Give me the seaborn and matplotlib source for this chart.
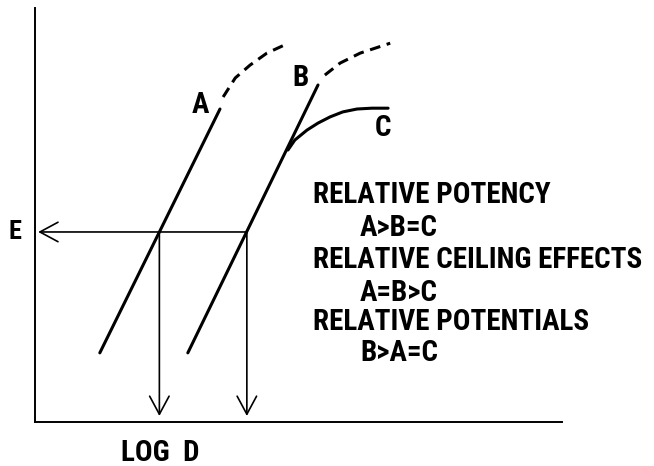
import seaborn as sns
import matplotlib.pyplot as plt

# Log dose (x) and effect (y)
a_dose = [1.23, 3.51]
a_effect = [16.7, 75.6]
a_ext_dose = [3.57, 3.80, 4.08, 4.40, 4.74]
a_ext_effect = [78.5, 83.1, 86.2, 89.1, 91.1]

b_dose = [2.90, 5.37]
b_effect = [16.7, 81.4]
b_ext_dose = [5.50, 5.79, 6.17, 6.74]
b_ext_effect = [83.8, 86.7, 89.1, 91.5]

c_dose = [4.80, 4.93, 5.16, 5.37, 5.60, 5.84, 6.11, 6.39, 6.70]
c_effect = [65.7, 68.1, 70.5, 72.2, 73.7, 74.9, 75.6, 75.8, 75.8]

e_level = 45.9
equi_doses = [2.36, 4.02]

summary_lines = ['RELATIVE POTENCY', 'A>B=C',
                 'RELATIVE CEILING EFFECTS', 'A=B>C',
                 'RELATIVE POTENTIALS', 'B>A=C']

sns.set_theme(style='white')
plt.rcParams['font.family'] = ['Roboto Condensed', 'Roboto', 'DejaVu Sans']
plt.rcParams['text.color'] = 'black'

fig = plt.figure(figsize=(6.54, 4.66), dpi=100)
ax = fig.add_axes([35 / 654, 44 / 466, 527 / 654, 414 / 466])

# Curves
dash = (0, (3.5, 2.2))
sns.lineplot(x=a_dose, y=a_effect, ax=ax, color='black', lw=2.2)
sns.lineplot(x=a_ext_dose, y=a_ext_effect, ax=ax, color='black', lw=2.2, linestyle=dash)
sns.lineplot(x=b_dose, y=b_effect, ax=ax, color='black', lw=2.2)
sns.lineplot(x=b_ext_dose, y=b_ext_effect, ax=ax, color='black', lw=2.2, linestyle=dash)
sns.lineplot(x=c_dose, y=c_effect, ax=ax, color='black', lw=2.2)

# Equi-effective arrows
arrow = dict(arrowstyle='->,head_length=1.3,head_width=0.7', color='black',
             lw=1.2, shrinkA=0, shrinkB=0, mutation_scale=10)
ax.annotate('', xy=(0.06, e_level), xytext=(equi_doses[1], e_level), arrowprops=arrow)
for d in equi_doses:
    ax.annotate('', xy=(d, 1.45), xytext=(d, e_level), arrowprops=arrow)

# Curve labels
lab = dict(fontsize=21, fontweight='bold', ha='center', va='center')
ax.text(3.13, 76.6, 'A', **lab)
ax.text(5.03, 83.1, 'B', **lab)
ax.text(6.60, 71.0, 'C', **lab)
ax.text(-0.38, e_level, 'E', fontsize=19, fontweight='bold', ha='center', va='center')
ax.text(2.37, -7.5, 'LOG  D', **lab)

# Summary text
ys = [54.8, 46.9, 39.1, 31.2, 24.2, 16.7]
for i, (s, y) in enumerate(zip(summary_lines, ys)):
    x = 5.28 if i % 2 == 0 else 6.17
    ax.text(x, y, s, fontsize=21, fontweight='bold', ha='left', va='center')

ax.set_xlim(0, 10)
ax.set_ylim(0, 100)
ax.set_xticks([])
ax.set_yticks([])
sns.despine(ax=ax)
for sp in ['left', 'bottom']:
    ax.spines[sp].set_color('black')
    ax.spines[sp].set_linewidth(1.4)

fig.savefig('out.png', dpi=100)
